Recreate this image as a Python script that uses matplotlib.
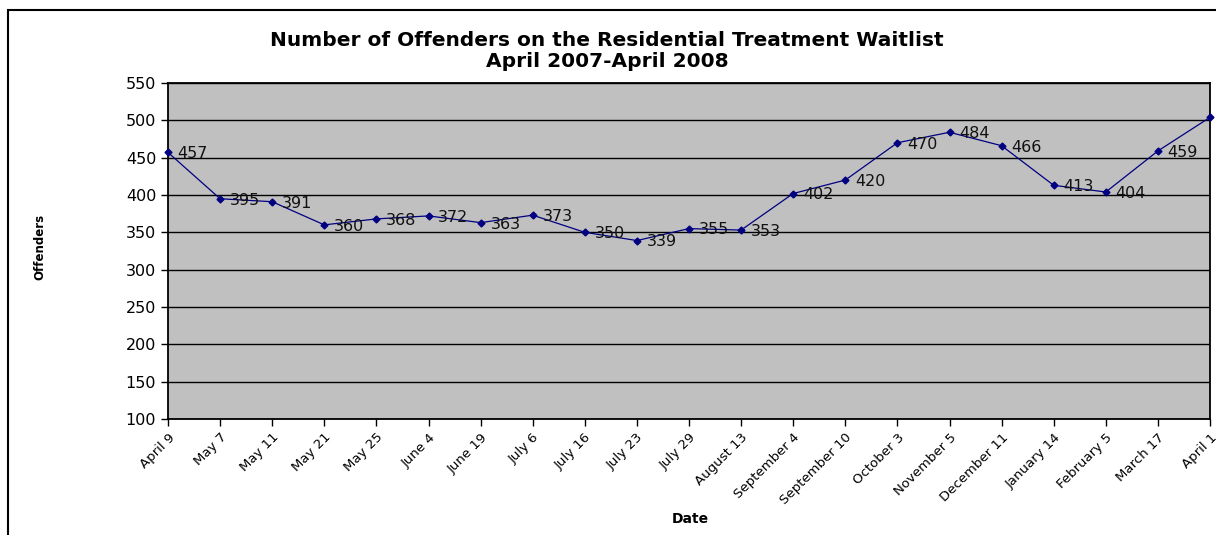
import matplotlib.pyplot as plt
from matplotlib.patches import Rectangle

plt.rcParams["font.family"] = ["DejaVu Sans"]

dates = ["April 9", "May 7", "May 11", "May 21", "May 25", "June 4", "June 19",
         "July 6", "July 16", "July 23", "July 29", "August 13", "September 4",
         "September 10", "October 3", "November 5", "December 11", "January 14",
         "February 5", "March 17", "April 1"]
offenders = [457, 395, 391, 360, 368, 372, 363, 373, 350, 339, 355, 353,
             402, 420, 470, 484, 466, 413, 404, 459, 504]
y_ticks = list(range(100, 551, 50))

fig = plt.figure(figsize=(12.16, 5.35), dpi=100)
ax = fig.add_axes([168 / 1216, 1 - 419 / 535, (1210 - 168) / 1216, (419 - 83) / 535])
ax.set_facecolor("#c0c0c0")

# outer chart border (runs off right/bottom like the source)
fig.patches.append(Rectangle((8 / 1216, -0.1), 1.2, 1 - 10 / 535 + 0.1,
                             transform=fig.transFigure, fill=False,
                             edgecolor="black", linewidth=1.5))

x = list(range(len(dates)))
ax.plot(x, offenders, color="#000080", linewidth=0.9, marker="D", markersize=3.5,
        clip_on=False, zorder=3)
for xi, v in zip(x, offenders):
    ax.annotate(str(v), (xi, v), xytext=(7, -1), textcoords="offset points",
                ha="left", va="center", fontsize=11.5, color="#111111",
                annotation_clip=False)

ax.set_xlim(0, len(dates) - 1)
ax.set_ylim(100, 550)
ax.set_yticks(y_ticks)
ax.yaxis.grid(True, color="black", linewidth=1)
ax.set_axisbelow(True)
ax.set_xticks(x)
ax.set_xticklabels(dates, rotation=45, ha="right", rotation_mode="anchor", fontsize=9.5)
ax.tick_params(axis="y", labelsize=11.5, length=5, width=1, direction="out")
ax.tick_params(axis="x", length=5, width=1, direction="out")
for s in ax.spines.values():
    s.set_linewidth(1.3)
    s.set_color("black")

fig.text(607 / 1216, 1 - 51 / 535,
         "Number of Offenders on the Residential Treatment Waitlist\nApril 2007-April 2008",
         ha="center", va="center", fontsize=14.5, fontweight="bold", linespacing=1.12)
fig.text(40 / 1216, 1 - 247 / 535, "Offenders", rotation=90, ha="center", va="center",
         fontsize=8.5, fontweight="bold")
fig.text(690 / 1216, 1 - 519 / 535, "Date", ha="center", va="center",
         fontsize=10, fontweight="bold")

fig.savefig("out.png", dpi=100)
